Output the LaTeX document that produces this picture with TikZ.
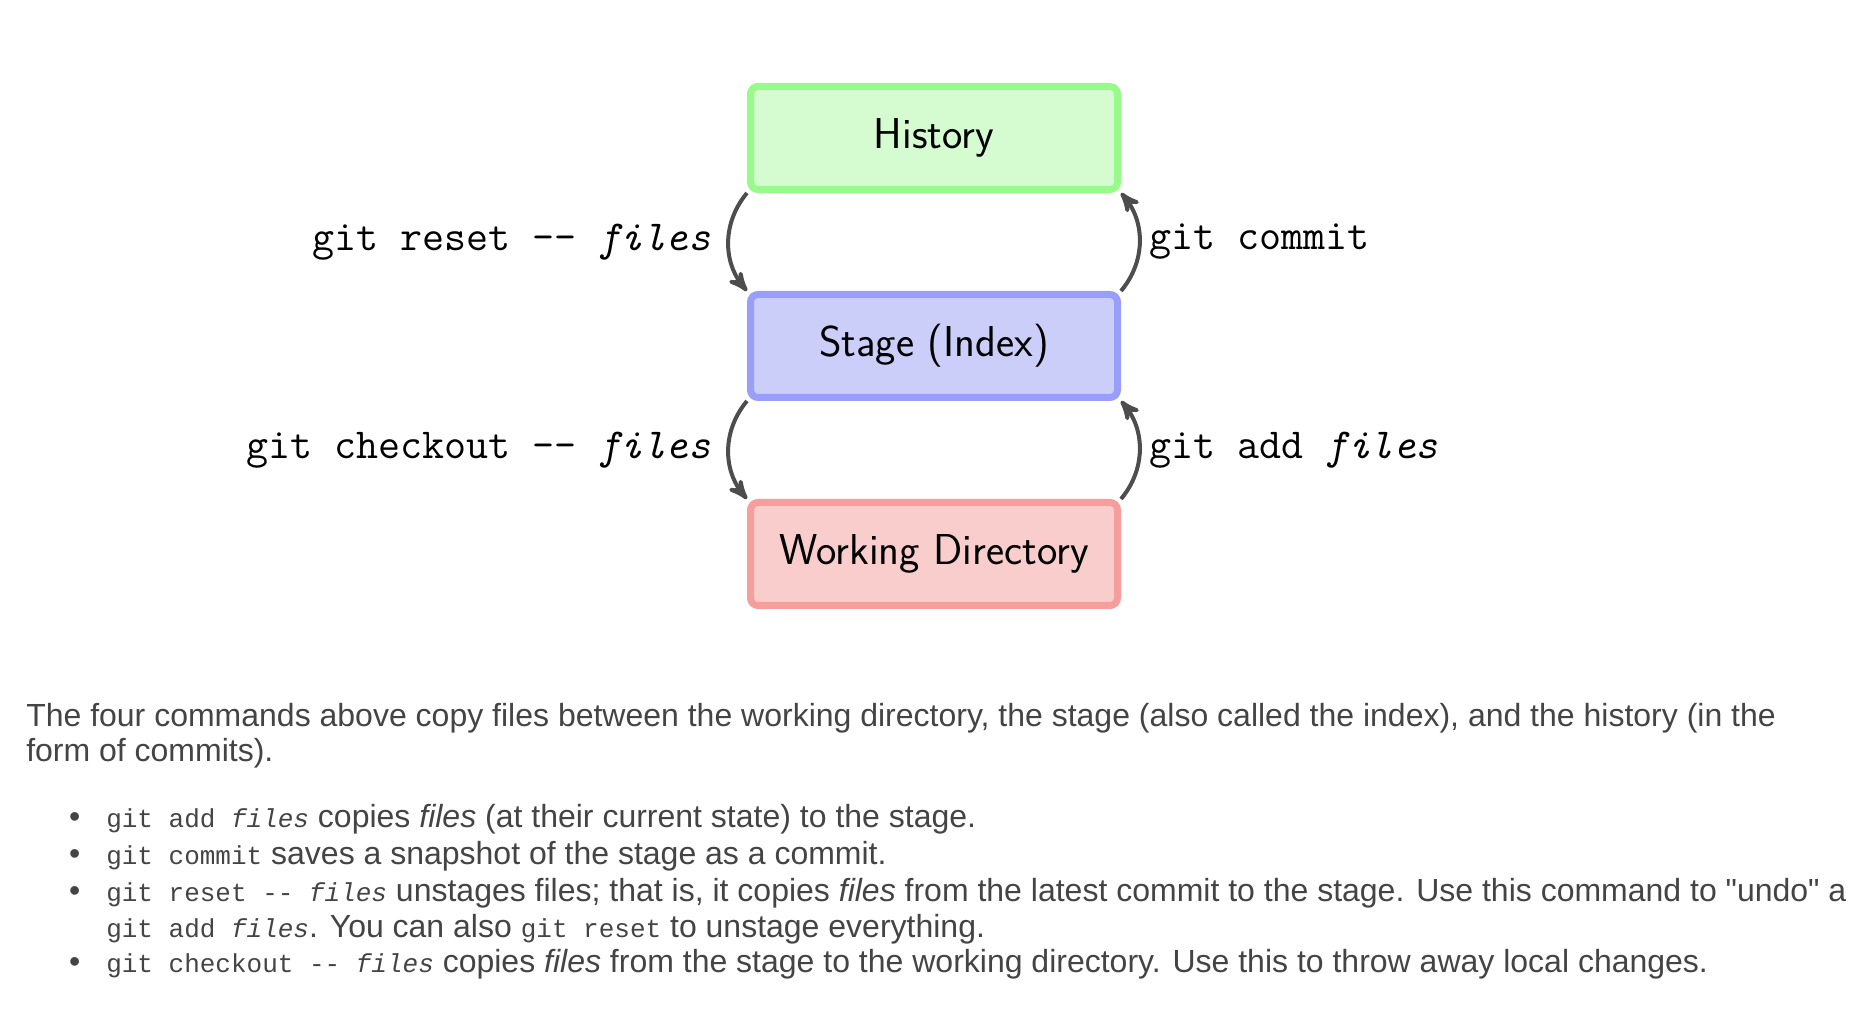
\documentclass[tikz,border=0pt]{standalone}
\usepackage{fontspec}
\usepackage{tikz}
\usetikzlibrary{arrows}
\newfontfamily\bodyfont{Liberation Sans}
\newfontfamily\codefont{Liberation Mono}
\definecolor{histfill}{RGB}{213,251,208}
\definecolor{histline}{RGB}{153,250,140}
\definecolor{stagefill}{RGB}{204,206,250}
\definecolor{stageline}{RGB}{153,158,250}
\definecolor{workfill}{RGB}{250,205,205}
\definecolor{workline}{RGB}{245,158,155}
\definecolor{arrowgrey}{RGB}{77,77,77}
\definecolor{bodygrey}{RGB}{68,68,68}
\tikzstyle{area}=[rectangle,rounded corners=3pt,line width=2.8pt,minimum width=146.8pt,minimum height=41.2pt,font=\sffamily\fontsize{17.28}{20}\selectfont]
\tikzstyle{history}=[area,draw=histline,fill=histfill]
\tikzstyle{stage}=[area,draw=stageline,fill=stagefill]
\tikzstyle{work}=[area,draw=workline,fill=workfill]
\tikzstyle{arrow}=[->,>=stealth',draw=arrowgrey,line width=1.6pt]
\tikzstyle{cmd}=[font=\ttfamily\fontsize{17.1}{20}\selectfont]
\tikzstyle{body}=[anchor=base west,inner sep=0pt,text=bodygrey,font=\bodyfont\fontsize{12.8}{15}\selectfont]
\newcommand{\gitcode}[1]{{\codefont\fontsize{10.4}{12}\selectfont #1}}
\tikzset{every picture/.style={
    line width=1
  }
}

\begin{document}
\begin{tikzpicture}[x=0.4pt,y=0.4pt]
      \useasboundingbox (0,0) rectangle (1860,1010);
      \node[history] at (934,872) (hist) {History};
      \node[stage] at (934,664) (idx) {Stage (Index)};
      \node[work] at (934,456) (wd) {Working Directory};
      \draw[arrow] (hist.south west) to[bend right=40] node[cmd,left,xshift=-3pt] {git reset -{}- \textit{files}} (idx.north west);
      \draw[arrow] (idx.north east) to[bend right=40] node[cmd,right] {git commit} (hist.south east);
      \draw[arrow] (idx.south west) to[bend right=40] node[cmd,left,xshift=-3pt] {git checkout -{}- \textit{files}} (wd.north west);
      \draw[arrow] (wd.north east) to[bend right=40] node[cmd,right] {git add \textit{files}} (idx.south east);
      % text below the picture
      \node[body] at (25,283) (par1) {The four commands above copy files between the working directory, the stage (also called the index), and the history (in the};
      \node[body] at (25,248) (par2) {form of commits).};
      \node[body] at (68,182) (dot1) {•};
      \node[body] at (68,145) (dot2) {•};
      \node[body] at (68,108) (dot3) {•};
      \node[body] at (68,37) (dot5) {•};
      \node[body] at (105,182) (item1) {\gitcode{git add \textit{files}} copies \textit{files} (at their current state) to the stage.};
      \node[body] at (105,145) (item2) {\gitcode{git commit} saves a snapshot of the stage as a commit.};
      \node[body] at (105,108) (item3) {\gitcode{git reset -{}- \textit{files}} unstages files; that is, it copies \textit{files} from the latest commit to the stage. Use this command to "undo" a};
      \node[body] at (105,72) (item4) {\gitcode{git add \textit{files}}. You can also \gitcode{git reset} to unstage everything.};
      \node[body] at (105,37) (item5) {\gitcode{git checkout -{}- \textit{files}} copies \textit{files} from the stage to the working directory. Use this to throw away local changes.};
    \end{tikzpicture}
\end{document}
